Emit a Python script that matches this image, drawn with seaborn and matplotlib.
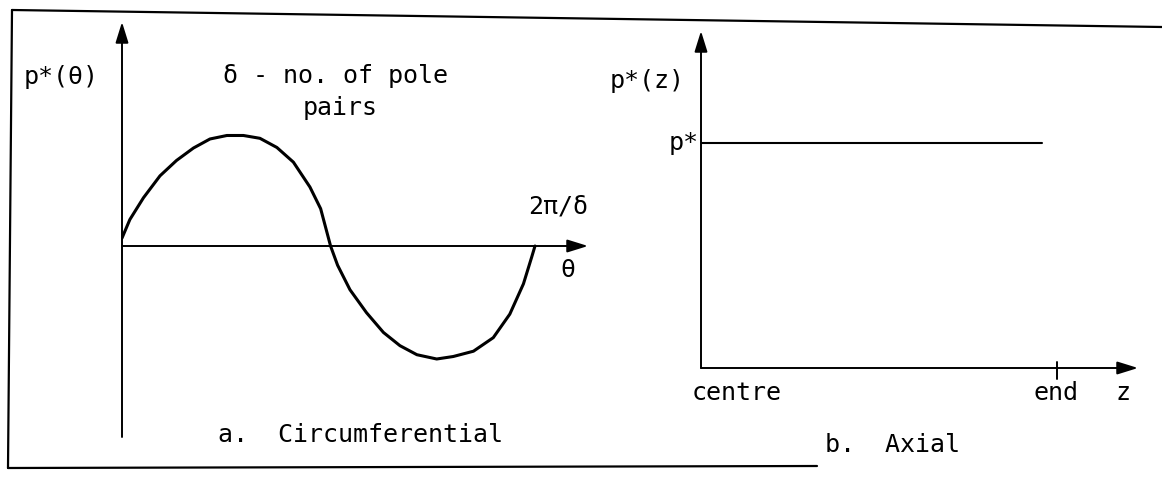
#!/usr/bin/env python3
"""
Pressure distribution sketch: p*(theta) circumferential and p*(z) axial.
"""

import matplotlib
matplotlib.use("Agg")
import matplotlib.pyplot as plt
import seaborn as sns

# ─── Data ────────────────────────────────────────────────────────────────────
# circumferential: theta as fraction of one period 2*pi/delta, p* normalised
theta = [0.0, 0.019, 0.052, 0.092, 0.132, 0.173, 0.213, 0.254, 0.294, 0.334,
         0.375, 0.415, 0.455, 0.481, 0.505, 0.522, 0.552, 0.592, 0.633,
         0.673, 0.714, 0.762, 0.802, 0.851, 0.899, 0.939, 0.972, 0.992, 1.0]
p_theta = [0.07, 0.234, 0.427, 0.621, 0.757, 0.867, 0.947, 0.978, 0.978, 0.953,
           0.872, 0.742, 0.522, 0.330, 0.0, -0.170, -0.387, -0.590, -0.765,
           -0.882, -0.962, -1.0, -0.978, -0.931, -0.811, -0.603, -0.335, -0.098, 0.0]

# axial: z from centre (0) to end (1), p* constant
z_axial = [0.0, 0.958]
p_axial = [1.0, 1.0]
z_end = 1.0

FONT = ["DejaVu Sans Mono", "DejaVu Sans"]
FS = 18
W, H = 1162, 478

sns.set_style("white")
plt.rcParams["font.family"] = FONT
plt.rcParams["text.color"] = "black"


def px_axes(fig, x0, y0, x1, y1):
    # axes placed by pixel box (top-left origin)
    return fig.add_axes([x0 / W, (H - y1) / H, (x1 - x0) / W, (y1 - y0) / H])


def arrow(ax, start, end):
    ax.annotate("", xy=end, xytext=start, annotation_clip=False,
                arrowprops=dict(arrowstyle="-|>,head_length=0.9,head_width=0.28",
                                color="black", lw=1.4, mutation_scale=14,
                                shrinkA=0, shrinkB=0))


def main():
    fig = plt.figure(figsize=(W / 100, H / 100), dpi=100)

    # ─── frame ───────────────────────────────────────────────────────────────
    bg = fig.add_axes([0, 0, 1, 1], zorder=0)
    bg.set_xlim(0, W)
    bg.set_ylim(H, 0)
    bg.axis("off")
    bg.plot([12, 8], [10, 468], color="black", lw=1.6)
    bg.plot([12, 1162], [10, 27], color="black", lw=1.6)
    bg.plot([8, 817], [468, 466], color="black", lw=1.6)

    # ─── a. Circumferential ──────────────────────────────────────────────────
    ax1 = px_axes(fig, 122, 22, 588, 437)
    xmax1 = 466 / 413
    ylo1, yhi1 = -(437 - 246) / 113, (246 - 22) / 113
    ax1.set_xlim(0, xmax1)
    ax1.set_ylim(ylo1, yhi1)
    ax1.axis("off")
    sns.lineplot(x=theta, y=p_theta, sort=False, color="black", lw=2.2,
                 solid_joinstyle="round", ax=ax1)
    arrow(ax1, (0, ylo1), (0, yhi1))
    arrow(ax1, (0, 0), (xmax1, 0))

    ax1.text(-0.237, 1.434, "p*(θ)", fontsize=FS, ha="left", va="baseline")
    ax1.text(0.245, 1.442, "δ - no. of pole", fontsize=FS, ha="left", va="baseline")
    ax1.text(0.438, 1.159, "pairs", fontsize=FS, ha="left", va="baseline")
    ax1.text(0.983, 0.292, "2π/δ", fontsize=FS, ha="left", va="baseline")
    ax1.text(1.061, -0.274, "θ", fontsize=FS, ha="left", va="baseline")
    ax1.text(0.232, -1.735, "a.  Circumferential", fontsize=FS, ha="left", va="baseline")

    # ─── b. Axial ────────────────────────────────────────────────────────────
    ax2 = px_axes(fig, 701, 31, 1138, 368)
    xmax2 = 437 / 356
    yhi2 = 337 / 225
    ax2.set_xlim(0, xmax2)
    ax2.set_ylim(0, yhi2)
    ax2.axis("off")
    sns.lineplot(x=z_axial, y=p_axial, color="black", lw=1.5, ax=ax2)
    arrow(ax2, (0, 0), (0, yhi2))
    arrow(ax2, (0, 0), (xmax2, 0))
    ax2.plot([z_end, z_end], [-0.049, 0.027], color="black", lw=1.4, clip_on=False)

    ax2.text(-0.045, 1.244, "p*(z)", fontsize=FS, ha="right", va="baseline")
    ax2.text(-0.008, 0.969, "p*", fontsize=FS, ha="right", va="baseline")
    ax2.text(-0.025, -0.142, "centre", fontsize=FS, ha="left", va="baseline")
    ax2.text(z_end - 0.067, -0.142, "end", fontsize=FS, ha="left", va="baseline")
    ax2.text(1.163, -0.142, "z", fontsize=FS, ha="left", va="baseline")
    ax2.text(0.348, -0.373, "b.  Axial", fontsize=FS, ha="left", va="baseline")

    fig.savefig("out.png", dpi=100)
    plt.close(fig)


if __name__ == "__main__":
    main()
